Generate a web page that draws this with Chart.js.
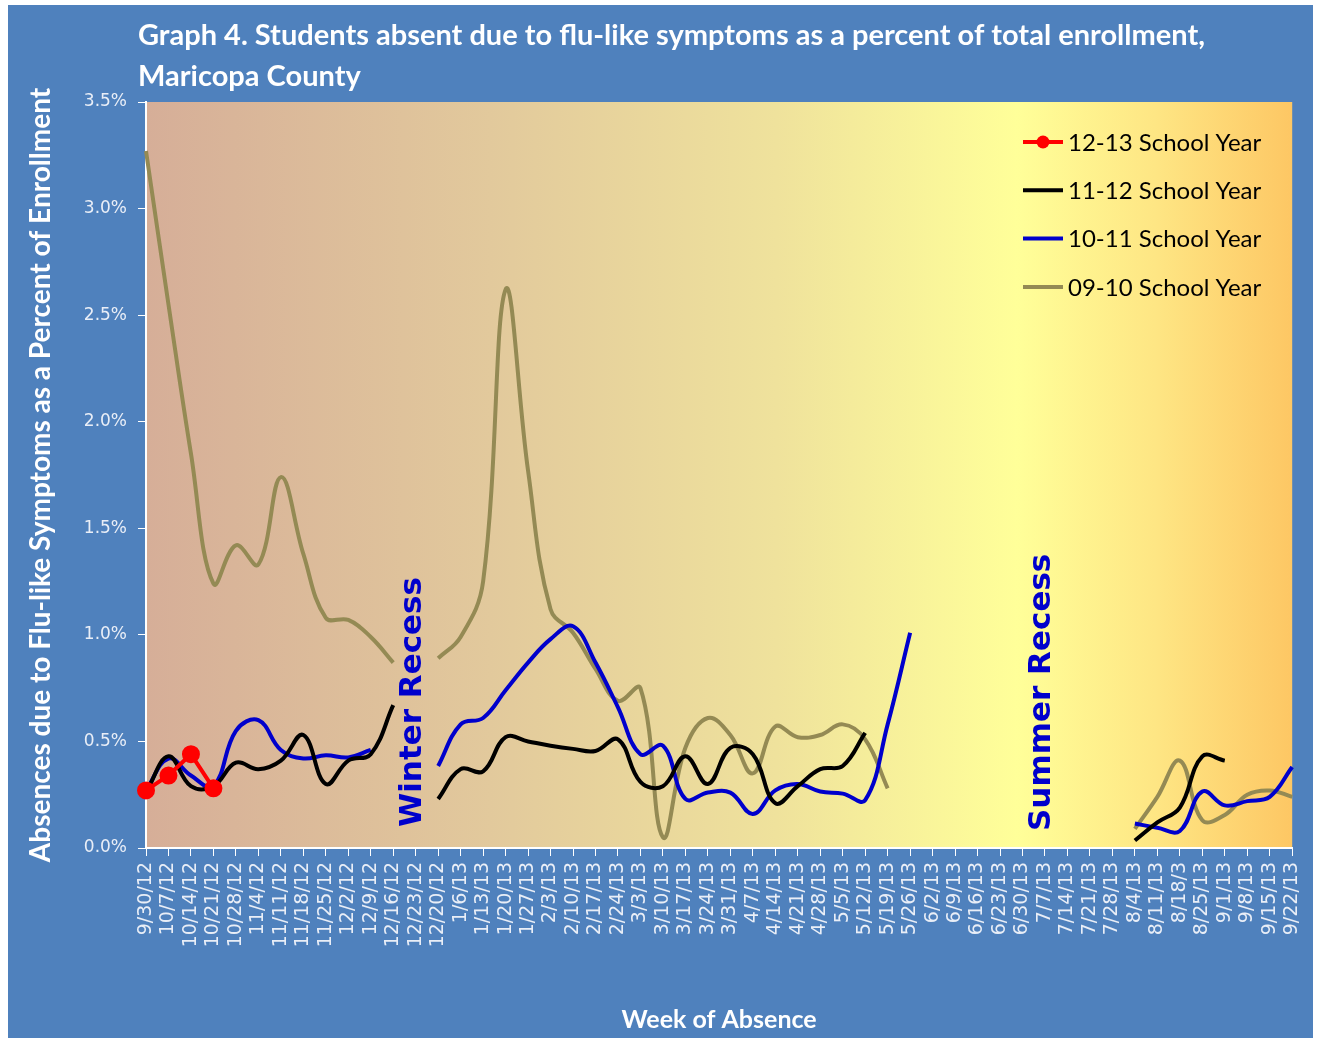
<!DOCTYPE html>
<html>
<head>
<meta charset="utf-8">
<title>Graph 4 - Flu-like absences, Maricopa County</title>
<script src="https://cdn.jsdelivr.net/npm/chart.js@4.4.1/dist/chart.umd.min.js"></script>
<style>
  html, body { margin: 0; padding: 0; background: #ffffff; }
  #chart { display: block; }
</style>
</head>
<body>
<canvas id="chart" width="1321" height="1038"></canvas>
<script>
// week labels (kept as printed on the original, including 12/20/12 and 8/18/3)
const weeks = [
  '9/30/12', '10/7/12', '10/14/12', '10/21/12', '10/28/12', '11/4/12', '11/11/12', '11/18/12',
  '11/25/12', '12/2/12', '12/9/12', '12/16/12', '12/23/12', '12/20/12', '1/6/13', '1/13/13',
  '1/20/13', '1/27/13', '2/3/13', '2/10/13', '2/17/13', '2/24/13', '3/3/13', '3/10/13',
  '3/17/13', '3/24/13', '3/31/13', '4/7/13', '4/14/13', '4/21/13', '4/28/13', '5/5/13',
  '5/12/13', '5/19/13', '5/26/13', '6/2/13', '6/9/13', '6/16/13', '6/23/13', '6/30/13',
  '7/7/13', '7/14/13', '7/21/13', '7/28/13', '8/4/13', '8/11/13', '8/18/3', '8/25/13',
  '9/1/13', '9/8/13', '9/15/13', '9/22/13'
];

// percent of enrollment (null = no data / recess)
const year1213 = [0.27, 0.34, 0.44, 0.28];

const year1112 = [
  0.26, 0.43, 0.29, 0.29, 0.40, 0.37, 0.41, 0.53, 0.30, 0.41, 0.44, 0.67, null,
  0.23, 0.37, 0.36, 0.52, 0.50, 0.48, 0.465, 0.455, 0.51, 0.31, 0.29, 0.43,
  0.30, 0.47, 0.44, 0.21, 0.29, 0.37, 0.385, 0.54, null, null,
  null, null, null, null, null, null, null, null, null,
  0.035, 0.12, 0.19, 0.43, 0.41, null, null, null
];

const year1011 = [
  0.27, 0.42, 0.34, 0.29, 0.55, 0.60, 0.46, 0.42, 0.435, 0.425, 0.46, null, null,
  0.385, 0.58, 0.61, 0.74, 0.87, 0.98, 1.04, 0.87, 0.66, 0.44, 0.48, 0.23,
  0.26, 0.26, 0.16, 0.27, 0.30, 0.265, 0.255, 0.225, 0.58, 1.01,
  null, null, null, null, null, null, null, null, null,
  0.115, 0.095, 0.08, 0.265, 0.20, 0.22, 0.24, 0.38
];

const year0910 = [
  3.27, 2.55, 1.85, 1.24, 1.42, 1.33, 1.74, 1.38, 1.08, 1.07, 0.99, 0.87, null,
  0.89, 0.99, 1.25, 2.62, 1.77, 1.12, 1.01, 0.84, 0.69, 0.75, 0.05, 0.47,
  0.61, 0.53, 0.35, 0.57, 0.52, 0.53, 0.58, 0.51, 0.28, null,
  null, null, null, null, null, null, null, null, null,
  0.09, 0.24, 0.41, 0.13, 0.155, 0.25, 0.27, 0.24
];

const seriesNames = ['12-13 School Year', '11-12 School Year', '10-11 School Year', '09-10 School Year'];
const seriesColors = ['#ff0000', '#000000', '#0000cc', '#948a54'];
const yTicks = [0, 0.5, 1.0, 1.5, 2.0, 2.5, 3.0, 3.5];

const tickColor = '#e9eef7';

// background: white frame, blue chart panel, gradient plot area
const backgroundPlugin = {
  id: 'panel',
  beforeDraw(chart) {
    const { ctx, chartArea } = chart;
    ctx.save();
    ctx.fillStyle = '#ffffff';
    ctx.fillRect(0, 0, chart.width, chart.height);
    ctx.fillStyle = '#4f81bd';
    ctx.fillRect(8, 5, 1305, 1033);
    const g = ctx.createLinearGradient(chartArea.left, 0, chartArea.right, 0);
    g.addColorStop(0, '#d6ae98');
    g.addColorStop(0.3, '#e2c99c');
    g.addColorStop(0.55, '#efe29c');
    g.addColorStop(0.76, '#ffff99');
    g.addColorStop(0.88, '#fee684');
    g.addColorStop(1, '#fdc764');
    ctx.fillStyle = g;
    ctx.fillRect(chartArea.left, chartArea.top, chartArea.right - chartArea.left, chartArea.bottom - chartArea.top);
    ctx.restore();
  }
};

// title, recess notes and the in-plot legend
const textPlugin = {
  id: 'texts',
  afterDraw(chart) {
    const { ctx } = chart;
    const x = chart.scales.x;
    ctx.save();

    // title, squeezed like the original condensed face
    ctx.fillStyle = '#ffffff';
    ctx.font = 'bold 29px Lato';
    ctx.textBaseline = 'alphabetic';
    const line1 = 'Graph 4. Students absent due to flu-like symptoms as a percent of total enrollment,';
    const squeeze = 1067 / ctx.measureText(line1).width;
    ctx.save();
    ctx.translate(138, 0);
    ctx.scale(squeeze, 1);
    ctx.fillText(line1, 0, 45);
    ctx.fillText('Maricopa County', 0, 86);
    ctx.restore();

    // recess notes
    ctx.fillStyle = '#0000cc';
    ctx.font = 'bold 31px "DejaVu Sans"';
    ctx.textBaseline = 'middle';
    ctx.textAlign = 'left';
    const notes = [['Winter Recess', 12, 827], ['Summer Recess', 40, 831]];
    notes.forEach(([txt, idx, yb]) => {
      ctx.save();
      ctx.translate(x.getPixelForValue(idx) - 3, yb);
      ctx.rotate(-Math.PI / 2);
      ctx.fillText(txt, 0, 0);
      ctx.restore();
    });

    // legend
    ctx.font = '24px Lato';
    ctx.textAlign = 'left';
    ctx.textBaseline = 'middle';
    seriesNames.forEach((name, i) => {
      const ly = 142 + i * 48.3;
      ctx.strokeStyle = seriesColors[i];
      ctx.lineWidth = 4;
      ctx.beginPath();
      ctx.moveTo(1023, ly);
      ctx.lineTo(1063, ly);
      ctx.stroke();
      if (i === 0) {
        ctx.fillStyle = seriesColors[0];
        ctx.beginPath();
        ctx.arc(1043, ly, 6.5, 0, Math.PI * 2);
        ctx.fill();
      }
      ctx.fillStyle = '#000000';
      ctx.fillText(name, 1068, ly + 1);
    });

    ctx.restore();
  }
};

const seriesData = [year1213, year1112, year1011, year0910];

const datasets = seriesData.map((d, i) => ({
  label: seriesNames[i],
  data: d,
  borderColor: seriesColors[i],
  backgroundColor: seriesColors[i],
  borderWidth: 4,
  pointRadius: i === 0 ? 7 : 0,
  pointHoverRadius: i === 0 ? 7 : 0,
  tension: i === 0 ? 0 : 0.4,
  spanGaps: false,
  clip: i === 0 ? 10 : 4,
  fill: false
}));

new Chart(document.getElementById('chart'), {
  type: 'line',
  data: { labels: weeks, datasets: datasets },
  plugins: [backgroundPlugin, textPlugin],
  options: {
    responsive: false,
    devicePixelRatio: 1,
    animation: false,
    events: [],
    layout: { padding: { top: 102, right: 25, bottom: 0, left: 0 } },
    plugins: {
      legend: { display: false },
      tooltip: { enabled: false },
      title: { display: false }
    },
    scales: {
      x: {
        type: 'category',
        offset: false,
        grid: { drawOnChartArea: false, drawTicks: true, tickLength: 8, color: '#ffffff', lineWidth: 1 },
        border: { display: true, color: '#ffffff', width: 2 },
        ticks: {
          autoSkip: false,
          maxRotation: 90,
          minRotation: 90,
          padding: 6,
          color: tickColor,
          font: { family: 'DejaVu Sans', size: 19 }
        },
        title: {
          display: true,
          text: 'Week of Absence',
          color: '#ffffff',
          font: { family: 'Lato', size: 25, weight: 'bold' },
          padding: { top: 0, bottom: 3 }
        },
        afterFit(s) { s.height = 190; }
      },
      y: {
        min: 0,
        max: 3.5,
        afterBuildTicks(s) { s.ticks = yTicks.map(v => ({ value: v })); },
        grid: { drawOnChartArea: false, drawTicks: true, tickLength: 8, color: '#ffffff', lineWidth: 1 },
        border: { display: true, color: '#ffffff', width: 2 },
        ticks: {
          padding: 11,
          color: tickColor,
          font: { family: 'DejaVu Sans', size: 17 },
          callback: v => v.toFixed(1) + '%'
        },
        title: {
          display: true,
          text: 'Absences due to Flu-like Symptoms as a Percent of Enrollment',
          color: '#ffffff',
          font: { family: 'Lato', size: 28, weight: 'bold' },
          padding: { top: 24, bottom: 0 }
        },
        afterFit(s) { s.width = 146; }
      }
    }
  }
});
</script>
</body>
</html>
